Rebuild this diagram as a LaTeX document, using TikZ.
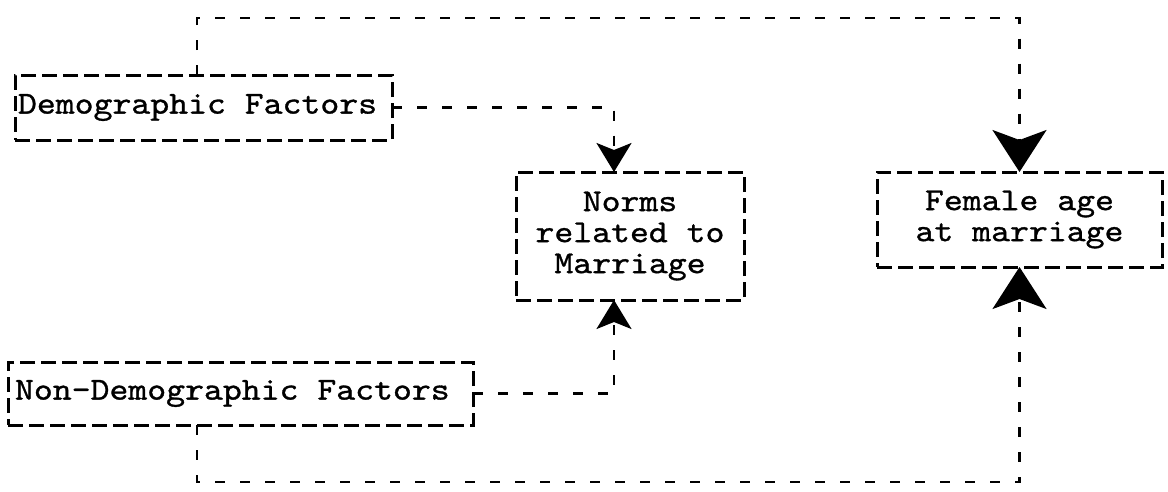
\documentclass[tikz,border=0pt]{standalone}
\usepackage{fontspec}
\newfontfamily\typed[FakeStretch=1.125, FakeBold=1.0]{lmmono10-regular.otf}
\newcommand\tsp{\hphantom{x}}
\usetikzlibrary{arrows.meta}

\tikzset{
  factorbox/.style={draw, line width=3pt, dash pattern=on 15pt off 6pt,
    inner sep=0pt, outer sep=0pt, align=center,
    font=\typed\fontsize{32}{31}\selectfont},
  link/.style={line width=2.5pt, dash pattern=on 10pt off 15pt},
  bigtip/.style={-{Stealth[length=42pt, width=54pt, inset=10pt]}},
  smalltip/.style={-{Stealth[length=29pt, width=35pt, inset=7pt]}}
}

\begin{document}
\begin{tikzpicture}[x=1pt, y=-1pt]
  \useasboundingbox (0,0) rectangle (1168,491);

  % factor boxes
  \node[factorbox, minimum width=377pt, minimum height=65pt,
        text width=371pt, align=left, inner xsep=3pt] (dem) at (203.5,107.5) {Demographic\tsp Factors};
  \node[factorbox, minimum width=465pt, minimum height=63pt,
        text width=451pt, align=left, inner xsep=7pt] (nondem) at (240.5,393.5) {Non-Demographic\tsp Factors};
  \node[factorbox, minimum width=228pt, minimum height=128pt] (norms) at (630,236) {Norms\\related\tsp to\\Marriage};
  \node[factorbox, minimum width=285pt, minimum height=95pt] (fem) at (1019.5,219.5) {Female\tsp age\\at\tsp marriage};

  % routing points
  \coordinate (topleft) at (197,18);
  \coordinate (botleft) at (197,482);
  \coordinate (normsx) at (614,0);

  % connectors
  \draw[link, bigtip] (topleft |- dem.north) -- (topleft) -| (fem.north);
  \draw[link, bigtip] (topleft |- nondem.south) -- (botleft) -| (fem.south);
  \draw[link, smalltip] (dem.east) -| (normsx |- norms.north);
  \draw[link, smalltip] (nondem.east) -| (normsx |- norms.south);
\end{tikzpicture}
\end{document}
